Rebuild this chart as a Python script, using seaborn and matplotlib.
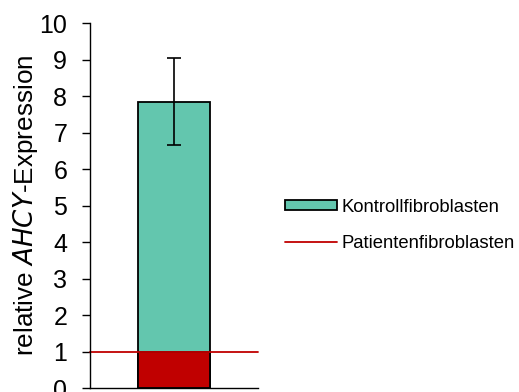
import numpy as np
import matplotlib
matplotlib.use("Agg")
import matplotlib.pyplot as plt
import seaborn as sns
from matplotlib.patches import Patch
from matplotlib.lines import Line2D

# data
groups = ["Kontrollfibroblasten"]
expression = [7.85]
expression_err = [1.2]
patient_level = 1.0

TEAL = "#63C6AE"
RED = "#C00000"

sns.set_style("white")
plt.rcParams["font.family"] = ["Liberation Sans", "DejaVu Sans"]
plt.rcParams["text.color"] = "black"
plt.rcParams["axes.labelcolor"] = "black"
plt.rcParams["ytick.color"] = "black"

fig = plt.figure(figsize=(5.19, 3.92), dpi=100)
ax = fig.add_axes([0.173, 0.0102, 0.324, 0.931])

bar_w = 0.43
sns.barplot(x=groups, y=expression, color=TEAL, edgecolor="black",
            linewidth=1.3, width=bar_w, saturation=1, ax=ax)
ax.errorbar(0, expression[0], yerr=expression_err, color="black",
            capsize=5, elinewidth=1.2, capthick=1.2, fmt="none")

# patient level: red block inside the bar plus reference line
ax.bar(0, patient_level, width=bar_w, color=RED, edgecolor="black", linewidth=1.3)
ax.axhline(patient_level, color=RED, linewidth=1.3, clip_on=False)

ax.set_xlim(-0.5, 0.5)
ax.set_ylim(0, 10)
ax.set_yticks(range(0, 11))
ax.set_xticks([])
ax.tick_params(axis="y", labelsize=18, length=5.8, width=1, direction="out",
               left=True, pad=10.5, colors="black")
for s in ["top", "right"]:
    ax.spines[s].set_visible(False)
for s in ["left", "bottom"]:
    ax.spines[s].set_color("black")
    ax.spines[s].set_linewidth(1)
ax.set_xlabel("")
ax.set_ylabel("relative $\\it{AHCY}$-Expression", fontsize=18.8, labelpad=-0.5, color="black")

handles = [Patch(facecolor=TEAL, edgecolor="black", linewidth=1.3),
           Line2D([0], [0], color=RED, linewidth=1.3)]
fig.legend(handles, ["Kontrollfibroblasten", "Patientenfibroblasten"],
           loc="center left", bbox_to_anchor=(0.549, 0.425), frameon=False,
           fontsize=13.3, handlelength=2.8, handleheight=0.5, handletextpad=0.27,
           labelspacing=1.05, borderaxespad=0, borderpad=0, labelcolor="black")

fig.savefig("out.png", dpi=100)
